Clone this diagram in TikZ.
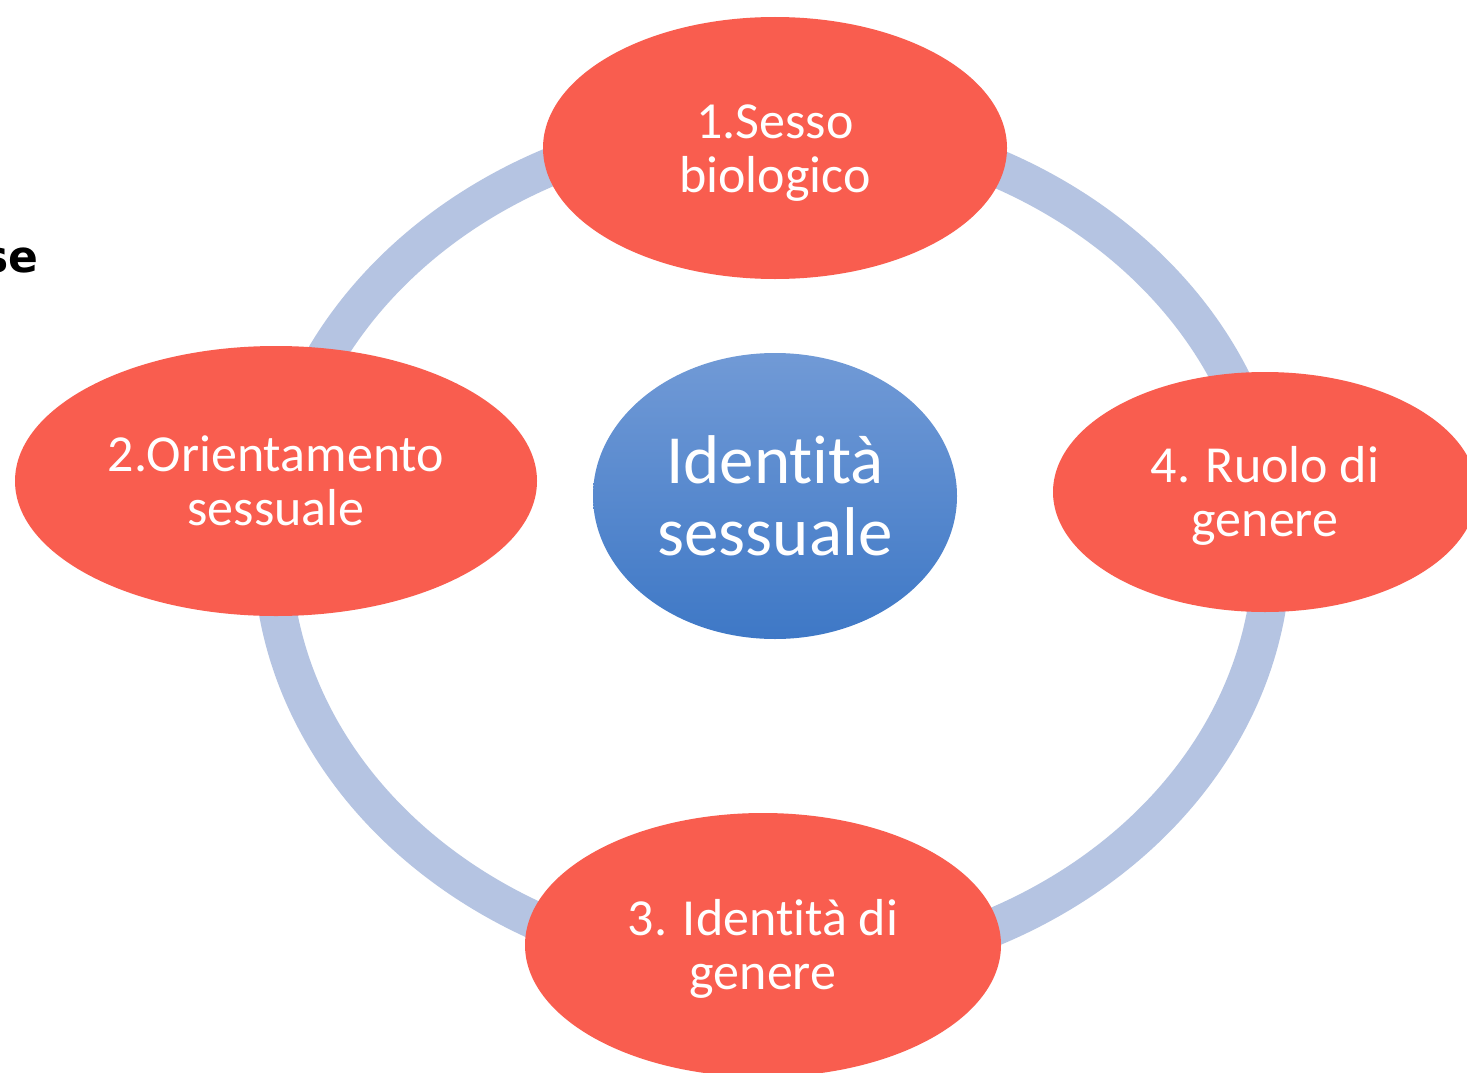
\documentclass[tikz,border=0pt]{standalone}
\usepackage{fontspec}
\setmainfont{Carlito}[Ligatures=NoCommon]
\newfontfamily\vfont{DejaVu Sans}
\usetikzlibrary{shapes.geometric}
\definecolor{redfill}{RGB}{249,93,79}
\definecolor{ringcol}{RGB}{181,196,226}
\definecolor{ctop}{RGB}{113,154,214}
\definecolor{cbot}{RGB}{62,120,198}
\tikzset{
  redell/.style={ellipse, fill=redfill, draw=none, inner sep=0pt, text=white,
    align=center, font=\fontsize{52}{54}\selectfont, text height=90pt, text depth=2pt},
  centell/.style={ellipse, top color=ctop, bottom color=cbot, draw=none, inner sep=0pt,
    text=white, align=center, font=\fontsize{69}{72}\selectfont},
  ringline/.style={draw=ringcol, line width=38pt}
}
\begin{document}
\begin{tikzpicture}[x=1pt,y=-1pt]
\useasboundingbox (0,0) rectangle (1467,1073);
\fill[white] (0,0) rectangle (1467,1073);
% partially visible heading text
\node[anchor=base east, inner sep=0pt, font=\vfont\bfseries\fontsize{44}{48}\selectfont] (t) at (39,272) {se};
% ring
\coordinate (ringc) at (772,547);
\draw[ringline] (ringc) ellipse [x radius=500pt, y radius=424pt];
% nodes
\node[redell, minimum width=464pt, minimum height=262pt] (n1) at (775,148) {1.Sesso\\biologico};
\node[redell, minimum width=522pt, minimum height=270pt] (n2) at (276,481) {2.Orientamento\\sessuale};
\node[redell, minimum width=476pt, minimum height=264pt] (n3) at (763,945) {3. Identità di\\genere};
\node[redell, minimum width=424pt, minimum height=240pt] (n4) at (1265,492) {4. Ruolo di\\genere};
\node[centell, minimum width=364pt, minimum height=286pt] (c) at (775,496) {Identità\\sessuale};
\end{tikzpicture}
\end{document}
